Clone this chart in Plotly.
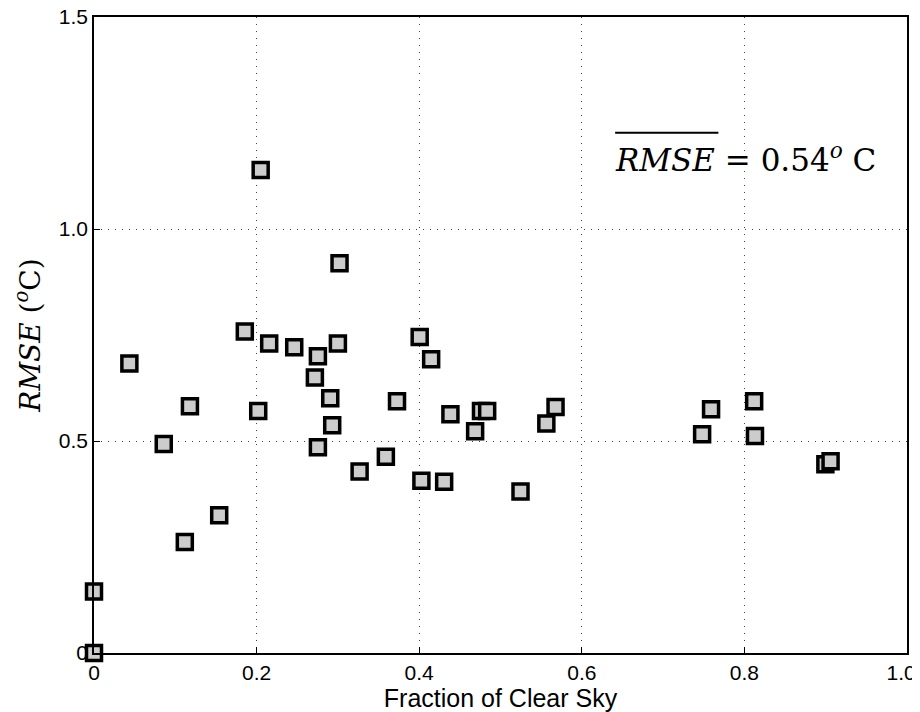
import plotly.graph_objects as go

clear_sky = [0.0, 0.0, 0.0435, 0.0858, 0.1117, 0.118, 0.154, 0.1855, 0.205, 0.202,
             0.2155, 0.2463, 0.2754, 0.2717, 0.300, 0.302, 0.2906, 0.293, 0.2754,
             0.3267, 0.359, 0.3727, 0.4006, 0.4147, 0.4027, 0.4307, 0.4384, 0.4688,
             0.476, 0.4836, 0.5246, 0.5564, 0.5677, 0.748, 0.759, 0.812, 0.813,
             0.8996, 0.906]
rmse = [0.0, 0.145, 0.683, 0.493, 0.262, 0.582, 0.325, 0.758, 1.139, 0.571,
        0.730, 0.721, 0.700, 0.650, 0.730, 0.919, 0.601, 0.537, 0.485,
        0.428, 0.463, 0.594, 0.745, 0.693, 0.406, 0.404, 0.563, 0.523,
        0.571, 0.571, 0.381, 0.541, 0.580, 0.516, 0.575, 0.594, 0.512,
        0.445, 0.452]

x_ticks = [0, 0.2, 0.4, 0.6, 0.8, 1.0]
x_labels = ["0", "0.2", "0.4", "0.6", "0.8", "1.0\u00a0\u00a0"]
y_ticks = [0, 0.5, 1.0, 1.5]
y_labels = ["0", "0.5", "1.0", "1.5"]

fig = go.Figure()
fig.add_trace(go.Scatter(
    x=clear_sky, y=rmse, mode="markers",
    marker=dict(symbol="square", size=15, color="#cccccc",
                line=dict(color="black", width=3.5)),
    cliponaxis=False, showlegend=False,
))

axis_common = dict(
    showline=True, linecolor="black", linewidth=1.5, mirror=True,
    ticks="inside", ticklen=6, tickcolor="black",
    showgrid=True, gridcolor="#444444", griddash="1px,6px", gridwidth=1,
    zeroline=False, automargin=False, ticklabeloverflow="allow",
    tickfont=dict(family="Liberation Sans, Arial, sans-serif", size=21, color="black"),
)

fig.update_xaxes(range=[0, 1.0], tickvals=x_ticks, ticktext=x_labels,
                 title=dict(text="Fraction of Clear Sky",
                            font=dict(family="Liberation Sans, Arial, sans-serif",
                                      size=25, color="black"),
                            standoff=0),
                 **axis_common)
fig.update_yaxes(range=[0, 1.5], tickvals=y_ticks, ticktext=y_labels,
                 title=dict(text="<i>RMSE</i> (<sup><i>o</i></sup>C)",
                            font=dict(family="DejaVu Serif, Liberation Serif, serif",
                                      size=28, color="black"),
                            standoff=10),
                 **axis_common)

fig.add_annotation(
    x=0.9645, y=0.778, xref="paper", yref="paper", xanchor="right", yanchor="middle",
    text="<i>RMSE</i> = 0.54<sup><i>o</i></sup> C", showarrow=False,
    font=dict(family="DejaVu Serif, Liberation Serif, serif", size=31, color="black"),
)
fig.add_shape(type="line", xref="paper", yref="paper",
              x0=0.641, x1=0.768, y0=0.818, y1=0.818,
              line=dict(color="black", width=2))

# page body has an 8px margin, so the figure is shifted by 8px; compensate
fig.update_layout(
    width=912, height=704,
    margin=dict(l=86, r=13, t=9, b=59),
    paper_bgcolor="white", plot_bgcolor="white",
)

fig.write_html("out.html")
